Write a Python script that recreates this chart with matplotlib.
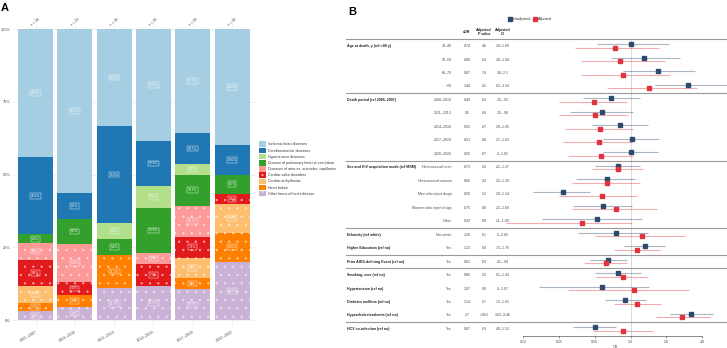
import matplotlib
matplotlib.use("Agg")
import matplotlib.pyplot as plt
import matplotlib.transforms as mtransforms
from matplotlib.patches import Patch
from matplotlib.lines import Line2D
import numpy as np

plt.rcParams['font.family'] = ['Liberation Sans', 'DejaVu Sans']
plt.rcParams['hatch.linewidth'] = 0.4

# ---------------- panel A data (deaths per cause, per period) ----------------
periods = ['2005–2007', '2008–2010', '2011–2013', '2014–2016', '2017–2019', '2020–2022']
n_deaths = [34, 23, 18, 26, 28, 30]
# stacked bottom -> top
causes = ['Other forms of heart disease', 'Heart failure', 'Cardiac arrhythmias',
          'Cardiac valve disorders', 'Diseases of arteries, arterioles, capillaries',
          'Disease of pulmonary heart or circulation', 'Hypertensive diseases',
          'Cerebrovascular diseases', 'Ischemic heart diseases']
other_forms = [1, 1, 2, 3, 3, 6]
heart_failure = [1, 1, 2, 0, 1, 3]
arrhythmias = [2, 0, 0, 0, 2, 3]
valve = [3, 1, 0, 2, 2, 1]
arteries = [2, 3, 0, 1, 3, 0]
pulmonary = [1, 2, 1, 4, 3, 2]
hypertensive = [0, 0, 1, 2, 1, 0]
cerebrovascular = [9, 2, 6, 4, 3, 3]
ischemic = [15, 13, 6, 10, 10, 12]
counts = [other_forms, heart_failure, arrhythmias, valve, arteries,
          pulmonary, hypertensive, cerebrovascular, ischemic]
cause_colors = ['#CAB2D6', '#FF7F00', '#FDBF6F', '#E31A1C', '#FB9A99',
                '#33A02C', '#B2DF8A', '#1F78B4', '#A6CEE3']
cause_hatch = ['..', '..', '..', '..', '..', None, None, None, None]

# ---------------- panel B data (odds ratios) ----------------
groups = ['Age at death, y (ref <40 y)', 'Death period (ref 2005–2007)',
          'Sex and HIV acquisition mode (ref MSM)', 'Ethnicity (ref white)',
          'Higher Education (ref no)', 'Prior AIDS-defining Event (ref no)',
          'Smoking, ever (ref no)', 'Hypertension (ref no)', 'Diabetes mellitus (ref no)',
          'Hypercholesterolemia (ref no)', 'HCV co-infection (ref no)']
group_sizes = [4, 5, 5, 1, 1, 1, 1, 1, 1, 1, 1]
separators = [-0.5, 3.5, 8.5, 13.5, 15.5, 16.5, 20.5]
levels = ['40–49', '50–59', '60–70', '>70', '2008–2010', '2011–2013', '2014–2016',
          '2017–2019', '2020–2022', 'Heterosexual men', 'Heterosexual women',
          'Men who inject drugs', 'Women who inject drugs', 'Other', 'Non-white',
          'Yes', 'Yes', 'Yes', 'Yes', 'Yes', 'Yes', 'Yes']
aor_text = ['0.74', '0.80', '0.87', '1.44', '0.49', '0.5', '0.55', '0.53', '0.56', '0.73',
            '0.66', '0.58', '0.75', '0.39', '1.26', '1.15', '0.62', '0.86', '1.07', '1.14',
            '2.7', '0.87']
p_text = ['.46', '.54', '.74', '.41', '.03', '.04', '.07', '.06', '.07', '.33', '.43', '.12',
          '.49', '.09', '.61', '.59', '.03', '.55', '.90', '.57', '<.001', '.63']
ci_text = ['.34–1.69', '.38–1.94', '.38–2.1', '.62–3.54', '.25–.92', '.25–.98', '.28–1.05',
           '.27–1.03', '.3–1.05', '.41–1.27', '.32–1.29', '.29–1.14', '.32–1.68', '.11–1.09',
           '.5–2.82', '.73–1.76', '.41–.94', '.51–1.43', '.3–3.07', '.72–1.81', '1.63–4.46',
           '.49–1.53']
unadj_or = [1.00, 1.29, 1.69, 3.07, 0.69, 0.58, 0.81, 1.02, 1.00, 0.79, 0.64, 0.27, 0.59,
            0.52, 0.76, 1.33, 0.65, 0.79, 0.58, 0.90, 3.23, 0.50]
unadj_lo = [0.52, 0.68, 0.86, 1.62, 0.40, 0.31, 0.47, 0.59, 0.59, 0.50, 0.35, 0.15, 0.33,
            0.18, 0.36, 0.88, 0.46, 0.50, 0.17, 0.61, 2.15, 0.33]
unadj_hi = [2.09, 2.63, 3.50, 7.00, 1.21, 1.04, 1.39, 1.75, 1.69, 1.21, 1.10, 0.46, 1.02,
            1.24, 1.41, 1.95, 0.93, 1.22, 1.44, 1.35, 4.97, 0.76]
adj_or = [0.74, 0.82, 0.87, 1.44, 0.49, 0.50, 0.55, 0.54, 0.56, 0.78, 0.64, 0.58, 0.75,
          0.39, 1.26, 1.14, 0.62, 0.86, 1.07, 1.14, 2.72, 0.87]
adj_lo = [0.34, 0.38, 0.38, 0.63, 0.25, 0.25, 0.28, 0.27, 0.30, 0.47, 0.32, 0.25, 0.32,
          0.09, 0.50, 0.72, 0.41, 0.51, 0.30, 0.73, 1.63, 0.48]
adj_hi = [1.72, 1.93, 2.13, 3.59, 0.93, 0.96, 1.05, 1.03, 1.05, 1.28, 1.21, 1.14, 1.66,
          1.03, 2.85, 1.76, 0.93, 1.41, 3.12, 1.81, 4.66, 1.53]

W, H = 727, 348
fig = plt.figure(figsize=(W / 100, H / 100), dpi=100)

def box(l, t, r, b):
    return [l / W, 1 - b / H, (r - l) / W, (b - t) / H]

FS = 2.6
GRAY = '#4d4d4d'

# ---------------- A: stacked bars ----------------
axA = fig.add_axes(box(12, 20, 255.6, 327))
x = np.arange(len(periods))
n = np.array(n_deaths)
bottom = np.zeros(len(periods))
for vals, c, h in zip(counts, cause_colors, cause_hatch):
    share = np.array(vals) / n
    axA.bar(x, share, 0.89, bottom=bottom, color=c, hatch=h,
            edgecolor=(1, 1, 1, 0.55) if h else c, linewidth=0, zorder=2)
    for xi, s, b in zip(x, share, bottom):
        if s > 0:
            axA.text(xi, b + s / 2, f'{s * 100:.1f}%', ha='center', va='center',
                     fontsize=2.3, color='white', zorder=3,
                     bbox=dict(boxstyle='square,pad=0.25', fc='none', ec='white', lw=0.3))
    bottom += share
for xi, nn in zip(x, n_deaths):
    axA.text(xi, 1.024, f'n = {nn}', rotation=40, ha='center', va='center',
             fontsize=FS, color=GRAY)
axA.set_xlim(-0.6, 5.6)
axA.set_ylim(-0.024, 1.031)
axA.set_yticks([0, 0.25, 0.5, 0.75, 1.0])
axA.set_yticklabels(['0%', '25%', '50%', '75%', '100%'])
axA.set_xticks(x)
axA.set_xticklabels(periods, rotation=30, ha='right', rotation_mode='anchor')
axA.tick_params(length=0, labelsize=2.8, labelcolor=GRAY, pad=1)
axA.tick_params(axis='x', pad=2)
axA.set_axisbelow(True)
axA.grid(color='#ebebeb', lw=0.5)
for s in axA.spines.values():
    s.set_visible(False)

handles = [Patch(facecolor=c, hatch=h, edgecolor=(1, 1, 1, 0.55) if h else c, lw=0)
           for c, h in zip(cause_colors, cause_hatch)][::-1]
fig.legend(handles, causes[::-1], loc='upper left', bbox_to_anchor=(259 / W, 1 - 141.5 / H),
           frameon=False, fontsize=FS, labelcolor='#333333', handlelength=1.95,
           handleheight=1.95, labelspacing=0.2, handletextpad=0.6,
           borderpad=0, borderaxespad=0)

fig.text(1 / W, 1 - 8 / H, 'A', fontsize=8, fontweight='bold', va='center', ha='left')
fig.text(348 / W, 1 - 12 / H, 'B', fontsize=8, fontweight='bold', va='center', ha='left')

# ---------------- B: forest plot ----------------
navy, red = '#2d4a6d', '#e0323f'
axB = fig.add_axes(box(505, 39.3, 727, 335.7))
rows = np.arange(len(levels))
off = 0.13
axB.hlines(rows - off, unadj_lo, unadj_hi, color=navy, alpha=0.4, lw=0.8, zorder=2)
axB.hlines(rows + off, adj_lo, adj_hi, color=red, alpha=0.4, lw=0.8, zorder=2)
axB.plot(unadj_or, rows - off, 's', color=navy, ms=3, zorder=3)
axB.plot(adj_or, rows + off, 's', color=red, ms=3, zorder=3)
axB.axvline(1, color='#d9cfd2', lw=0.6, zorder=1)
axB.set_xscale('log')
axB.set_xlim(0.088, 6.47)
axB.set_ylim(21.5, -0.5)
axB.set_xticks([0.125, 0.25, 0.5, 1, 2, 4])
axB.set_xticklabels(['0.12', '0.25', '0.50', '1.0', '2.0', '4.0'])
axB.minorticks_off()
axB.tick_params(axis='x', length=1.5, width=0.4, color='#333333', labelsize=FS,
                labelcolor=GRAY, pad=1.5)
axB.set_yticks([])
for k in ['top', 'right', 'left']:
    axB.spines[k].set_visible(False)
axB.spines['bottom'].set_bounds(0.125, 4)
axB.spines['bottom'].set_linewidth(0.4)
axB.spines['bottom'].set_color('#333333')
axB.set_xlabel('OR', fontsize=FS, color=GRAY, labelpad=1)

x0 = (346 - 505) / 222
for y in separators:
    axB.axhline(y, xmin=x0, xmax=1, color='#9a9a9a', lw=0.8, clip_on=False, zorder=1)

tr = mtransforms.blended_transform_factory(fig.transFigure, axB.transData)
start = 0
for g, size in zip(groups, group_sizes):
    fig.text(347 / W, start, g, transform=tr, fontsize=FS, fontweight='bold',
             ha='left', va='center', color='#222222')
    start += size
for r in rows:
    axB.text(452 / W, r, levels[r], transform=tr, fontsize=FS, ha='right', va='center', color=GRAY)
    axB.text(467 / W, r, aor_text[r], transform=tr, fontsize=FS, ha='center', va='center', color=GRAY)
    axB.text(484 / W, r, p_text[r], transform=tr, fontsize=FS, ha='center', va='center', color=GRAY)
    axB.text(503 / W, r, ci_text[r], transform=tr, fontsize=FS, ha='center', va='center', color=GRAY)
axB.text(467 / W, -1.05, 'aOR', transform=tr, fontsize=FS, ha='center', va='center',
         color='#222222', fontweight='bold')
axB.text(484 / W, -1.05, 'Adjusted\nP value', transform=tr, fontsize=FS, ha='center',
         va='center', color='#222222', fontweight='bold', linespacing=1.1)
axB.text(503 / W, -1.05, 'Adjusted\nCI', transform=tr, fontsize=FS, ha='center',
         va='center', color='#222222', fontweight='bold', linespacing=1.1)

leg_h = [Line2D([], [], marker='s', ls='', color=navy, ms=3),
         Line2D([], [], marker='s', ls='', color=red, ms=3)]
fig.legend(leg_h, ['Unadjusted', 'Adjusted'], loc='center left',
           bbox_to_anchor=(508 / W, 1 - 19 / H), ncol=2, frameon=False, fontsize=FS,
           labelcolor='#333333', handlelength=1.0, handletextpad=0.2, columnspacing=0.8,
           borderpad=0, borderaxespad=0)

fig.savefig('out.png', dpi=100)
